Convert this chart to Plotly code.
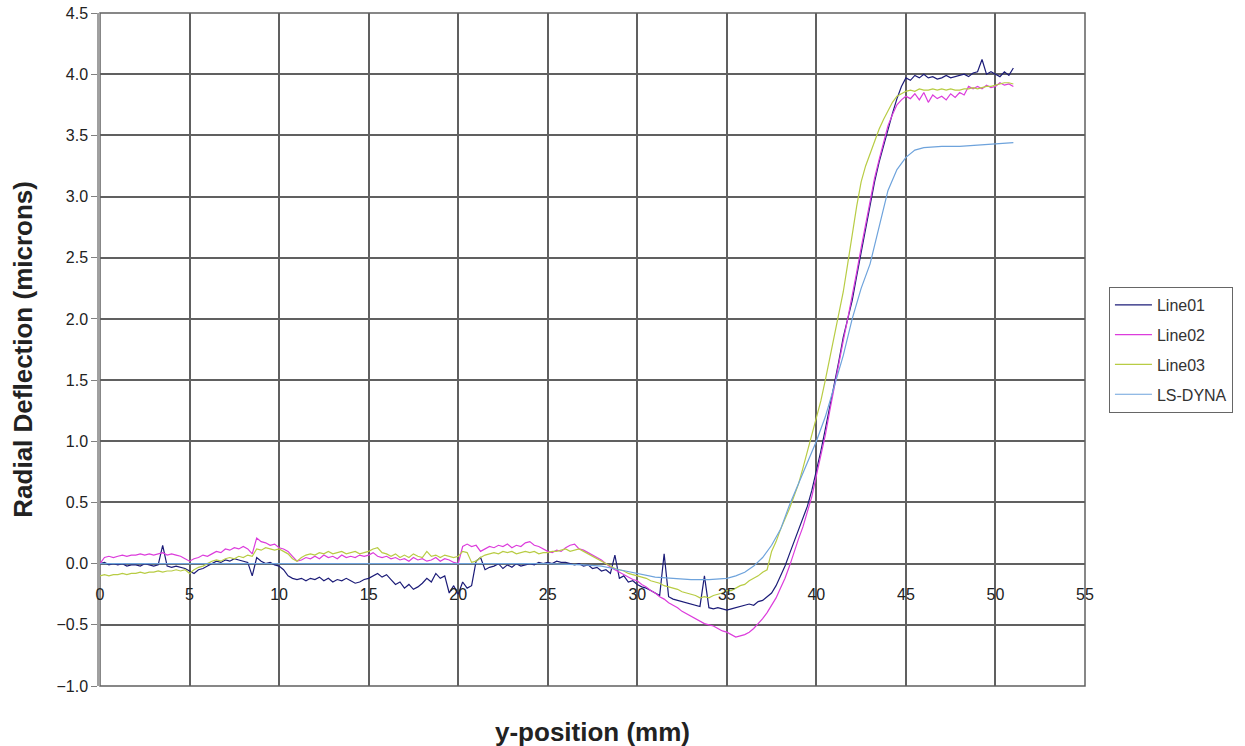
import numpy as np
import plotly.graph_objects as go

# x positions (mm) for the measured traces: 0 .. 51 in 0.25 mm steps
x_meas = [i * 0.25 for i in range(205)]

line01 = [
    0.00, 0.01, -0.01, 0.00,
    -0.01, 0.00, -0.02, -0.01,
    -0.01, -0.02, 0.00, -0.01,
    -0.02, -0.01, 0.15, -0.02,
    -0.03, -0.02, -0.03, -0.04,
    -0.06, -0.08, -0.05, -0.04,
    -0.02, 0.00, 0.02, 0.01,
    0.03, 0.02, 0.04, 0.03,
    0.02, 0.01, -0.10, 0.05,
    0.02, 0.00, 0.01, -0.01,
    -0.02, -0.05, -0.10, -0.12,
    -0.13, -0.12, -0.14, -0.12,
    -0.13, -0.11, -0.14, -0.12,
    -0.15, -0.13, -0.14, -0.12,
    -0.14, -0.16, -0.15, -0.13,
    -0.12, -0.10, -0.08, -0.11,
    -0.09, -0.13, -0.17, -0.15,
    -0.20, -0.17, -0.21, -0.19,
    -0.16, -0.12, -0.15, -0.08,
    -0.12, -0.10, -0.24, -0.18,
    -0.25, -0.15, -0.20, -0.18,
    0.02, 0.05, -0.05, -0.03,
    -0.02, 0.00, -0.04, -0.01,
    -0.03, 0.00, -0.02, -0.01,
    0.00, -0.01, 0.01, 0.00,
    0.01, 0.00, 0.02, 0.01,
    0.01, 0.00, -0.01, 0.00,
    -0.02, -0.01, -0.04, -0.03,
    -0.06, -0.05, -0.08, 0.07,
    -0.12, -0.10, -0.15, -0.14,
    -0.17, -0.19, -0.20, -0.22,
    -0.24, -0.26, 0.08, -0.27,
    -0.29, -0.30, -0.31, -0.32,
    -0.33, -0.34, -0.35, -0.10,
    -0.36, -0.37, -0.36, -0.37,
    -0.38, -0.37, -0.36, -0.35,
    -0.34, -0.33, -0.34, -0.31,
    -0.30, -0.27, -0.24, -0.18,
    -0.10, -0.02, 0.08, 0.18,
    0.28, 0.38, 0.47, 0.60,
    0.75, 0.92, 1.10, 1.28,
    1.45, 1.65, 1.85, 2.00,
    2.15, 2.35, 2.55, 2.75,
    2.95, 3.12, 3.28, 3.42,
    3.55, 3.68, 3.80, 3.90,
    3.97, 3.95, 3.99, 3.97,
    4.00, 3.97, 3.98, 3.96,
    3.97, 3.99, 3.97, 3.98,
    3.99, 4.00, 3.98, 4.01,
    4.02, 4.12, 4.00, 4.02,
    4.00, 3.98, 4.02, 3.99,
    4.05,
]

line02 = [
    0.00, 0.05, 0.06, 0.05,
    0.06, 0.07, 0.06, 0.07,
    0.07, 0.08, 0.07, 0.08,
    0.07, 0.08, 0.09, 0.07,
    0.08, 0.07, 0.06, 0.04,
    0.02, 0.04, 0.05, 0.07,
    0.06, 0.08, 0.10, 0.09,
    0.12, 0.11, 0.13, 0.12,
    0.14, 0.12, 0.08, 0.21,
    0.18, 0.17, 0.15, 0.16,
    0.13, 0.12, 0.10, 0.06,
    0.02, 0.03, 0.05, 0.04,
    0.06, 0.04, 0.07, 0.05,
    0.06, 0.04, 0.07, 0.05,
    0.06, 0.05, 0.07, 0.06,
    0.07, 0.09, 0.06, 0.05,
    0.06, 0.04, 0.05, 0.03,
    0.04, 0.02, 0.05, 0.03,
    0.04, 0.02, 0.03, 0.05,
    0.02, 0.04, 0.03, 0.01,
    0.00, 0.14, 0.16, 0.14,
    0.15, 0.10, 0.12, 0.14,
    0.13, 0.15, 0.14, 0.16,
    0.13, 0.15, 0.14, 0.17,
    0.18, 0.15, 0.14, 0.12,
    0.10, 0.09, 0.11, 0.10,
    0.13, 0.15, 0.16, 0.12,
    0.11, 0.09, 0.07, 0.05,
    0.03, 0.00, -0.03, -0.05,
    -0.07, -0.09, -0.11, -0.13,
    -0.14, -0.17, -0.19, -0.22,
    -0.24, -0.27, -0.29, -0.32,
    -0.34, -0.36, -0.39, -0.41,
    -0.43, -0.45, -0.47, -0.49,
    -0.50, -0.51, -0.53, -0.55,
    -0.56, -0.58, -0.60, -0.59,
    -0.58, -0.56, -0.53, -0.49,
    -0.45, -0.40, -0.34, -0.28,
    -0.20, -0.12, -0.02, 0.10,
    0.20, 0.30, 0.42, 0.55,
    0.72, 0.88, 1.05, 1.25,
    1.45, 1.62, 1.82, 2.00,
    2.18, 2.38, 2.58, 2.78,
    2.98, 3.15, 3.30, 3.45,
    3.58, 3.67, 3.75, 3.79,
    3.82, 3.80, 3.84, 3.79,
    3.85, 3.77, 3.83, 3.80,
    3.82, 3.79, 3.84, 3.81,
    3.85, 3.83, 3.90, 3.88,
    3.90, 3.88, 3.91, 3.89,
    3.90, 3.93, 3.91, 3.92,
    3.90,
]

line03 = [
    -0.10, -0.09, -0.10, -0.09,
    -0.09, -0.08, -0.09, -0.08,
    -0.08, -0.07, -0.08, -0.07,
    -0.07, -0.06, -0.07, -0.06,
    -0.06, -0.05, -0.06, -0.05,
    -0.08, -0.05, -0.03, -0.02,
    0.00, 0.02, 0.03, 0.02,
    0.04, 0.05, 0.04, 0.06,
    0.05, 0.07, 0.06, 0.12,
    0.11, 0.13, 0.12, 0.11,
    0.12, 0.10, 0.08, 0.04,
    0.02, 0.05, 0.07, 0.08,
    0.07, 0.09, 0.08, 0.10,
    0.08, 0.09, 0.10, 0.08,
    0.09, 0.10, 0.08, 0.09,
    0.10, 0.12, 0.13, 0.09,
    0.08, 0.06, 0.08, 0.05,
    0.07, 0.05, 0.08, 0.06,
    0.05, 0.10, 0.06, 0.07,
    0.05, 0.07, 0.06, 0.05,
    0.06, 0.10, 0.09, 0.01,
    0.02, 0.05, 0.07, 0.08,
    0.09, 0.08, 0.10, 0.09,
    0.10, 0.08, 0.09, 0.10,
    0.09, 0.10, 0.08, 0.09,
    0.09, 0.10, 0.10, 0.11,
    0.12, 0.10, 0.11, 0.12,
    0.10, 0.08, 0.06, 0.04,
    0.02, 0.00, -0.02, -0.04,
    -0.05, -0.06, -0.08, -0.09,
    -0.10, -0.11, -0.12, -0.14,
    -0.15, -0.16, -0.18, -0.19,
    -0.20, -0.21, -0.23, -0.24,
    -0.25, -0.26, -0.28, -0.27,
    -0.28, -0.26, -0.25, -0.24,
    -0.22, -0.22, -0.20, -0.18,
    -0.17, -0.14, -0.12, -0.10,
    -0.07, -0.05, 0.10, 0.18,
    0.28, 0.36, 0.45, 0.55,
    0.65, 0.78, 0.92, 1.05,
    1.18, 1.33, 1.50, 1.68,
    1.85, 2.05, 2.22, 2.45,
    2.70, 2.92, 3.12, 3.25,
    3.35, 3.45, 3.55, 3.63,
    3.70, 3.77, 3.82, 3.84,
    3.86, 3.87, 3.86, 3.88,
    3.87, 3.87, 3.88, 3.87,
    3.88, 3.87, 3.88, 3.87,
    3.87, 3.88, 3.88, 3.89,
    3.88, 3.89, 3.90, 3.90,
    3.91, 3.92, 3.93, 3.93,
    3.92,
]

x_dyna = [0, 5, 10, 15, 20, 25, 27, 28, 29, 30, 31, 32, 33, 34, 35, 35.5, 36, 36.5,
          37, 37.5, 38, 38.5, 39, 39.5, 40, 40.5, 41, 41.5, 42, 42.5, 43, 43.5, 44,
          44.5, 45, 45.5, 46, 47, 48, 49, 50, 51]
ls_dyna = [0.0, 0.0, 0.0, 0.0, 0.0, 0.0, -0.01, -0.02, -0.05, -0.08, -0.11, -0.12, -0.13,
           -0.13, -0.12, -0.10, -0.07, -0.02, 0.05, 0.15, 0.28, 0.48, 0.65, 0.82, 1.00,
           1.20, 1.45, 1.70, 2.00, 2.25, 2.45, 2.75, 3.05, 3.22, 3.32, 3.38, 3.40, 3.41,
           3.41, 3.42, 3.43, 3.44]

series_names = ["Line01", "Line02", "Line03", "LS-DYNA"]
x_ticks = [0, 5, 10, 15, 20, 25, 30, 35, 40, 45, 50, 55]
y_ticks = [-1.0, -0.5, 0.0, 0.5, 1.0, 1.5, 2.0, 2.5, 3.0, 3.5, 4.0, 4.5]

FONT = "Arial, Liberation Sans, sans-serif"
GRID = "#606060"

fig = go.Figure()
colors = ["#1c1c78", "#dc3cdc", "#b8cc44", "#6ea3dc"]
data = [(x_meas, line01), (x_meas, line02), (x_meas, line03), (x_dyna, ls_dyna)]
for (xs, ys), name, c in zip(data, series_names, colors):
    fig.add_trace(go.Scatter(x=xs, y=ys, mode="lines", name=name, legendgroup=name,
                             line=dict(color=c, width=1.2)))

fig.update_layout(
    width=1245, height=746,
    margin=dict(l=100, r=156, t=13, b=60),
    paper_bgcolor="white", plot_bgcolor="white",
    font=dict(family=FONT, color="#222222"),
    showlegend=True,
    legend=dict(x=1.0243, y=0.4993, xanchor="left", yanchor="middle",
                bordercolor="#666666", borderwidth=1, bgcolor="white",
                font=dict(size=16, family=FONT, color="#333333"),
                tracegroupgap=6, itemwidth=37),
    xaxis=dict(range=[0, 55], tickvals=x_ticks, showgrid=True, gridcolor=GRID, gridwidth=1.5,
               zeroline=False, showline=False, ticks="", automargin=False,
               anchor="free", position=1.0 / 5.5, ticklabelstandoff=19,
               tickfont=dict(size=16, family=FONT, color="#222222")),
    yaxis=dict(range=[-1.0, 4.5], tickvals=y_ticks, tickformat=".1f", showgrid=True,
               gridcolor=GRID, gridwidth=1.5, zeroline=False, automargin=False,
               showline=True, linecolor="#a0a0a0", linewidth=2.5,
               ticks="outside", ticklen=6, tickcolor="#808080",
               tickfont=dict(size=16, family=FONT, color="#222222")),
    shapes=[dict(type="rect", xref="paper", yref="paper", x0=0, y0=0, x1=1, y1=1,
                 line=dict(color=GRID, width=1.5), layer="below")],
    annotations=[
        dict(text="<b>y-position (mm)</b>", xref="paper", yref="paper", x=0.5, y=-0.068,
             xanchor="center", yanchor="middle", showarrow=False,
             font=dict(size=26, family=FONT, color="#222222")),
        dict(text="<b>Radial Deflection (microns)</b>", xref="paper", yref="paper",
             x=-0.079, y=0.5, xanchor="center", yanchor="middle", textangle=-90,
             showarrow=False, font=dict(size=26, family=FONT, color="#222222")),
    ],
)

fig.write_html("out.html", config={"displayModeBar": False},
               post_script="document.body.style.margin='0px';")
